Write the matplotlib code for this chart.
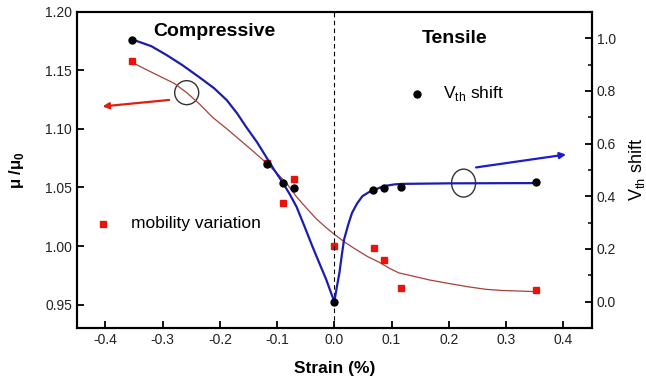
import matplotlib
matplotlib.use("Agg")
import matplotlib.pyplot as plt
from matplotlib.patches import Ellipse

plt.rcParams['font.family'] = ['Liberation Sans', 'DejaVu Sans']
plt.rcParams['mathtext.fontset'] = 'custom'
plt.rcParams['mathtext.rm'] = 'Liberation Sans'
plt.rcParams['mathtext.bf'] = 'Liberation Sans:bold'
plt.rcParams['axes.unicode_minus'] = False

# mobility variation (left axis)
mob_strain = [-0.354, -0.117, -0.089, -0.070, 0.0, 0.070, 0.087, 0.117, 0.352]
mob_value = [1.158, 1.071, 1.037, 1.057, 1.000, 0.998, 0.988, 0.964, 0.962]
# fitted trend of mobility
mob_fit_x = [-0.354, -0.330, -0.305, -0.280, -0.258, -0.235, -0.213, -0.190, -0.166,
             -0.142, -0.119, -0.100, -0.084, -0.066, -0.048, -0.031, -0.015,
             0.0, 0.019, 0.038, 0.058, 0.079, 0.096, 0.113, 0.140, 0.166, 0.200,
             0.236, 0.265, 0.293, 0.325, 0.353]
mob_fit_y = [1.157, 1.151, 1.145, 1.139, 1.131, 1.121, 1.110, 1.101, 1.091,
             1.081, 1.071, 1.062, 1.054, 1.042, 1.032, 1.023, 1.016,
             1.010, 1.003, 0.997, 0.991, 0.986, 0.981, 0.977, 0.974, 0.971, 0.968,
             0.965, 0.963, 0.962, 0.9615, 0.961]

# Vth shift (right axis)
vth_strain = [-0.354, -0.117, -0.090, -0.070, 0.0, 0.068, 0.087, 0.117, 0.352]
vth_value = [0.992, 0.523, 0.450, 0.430, 0.0, 0.424, 0.430, 0.435, 0.455]
vth_fit_x = [-0.354, -0.320, -0.293, -0.265, -0.236, -0.210, -0.188, -0.170, -0.154,
             -0.135, -0.119, -0.105, -0.091, -0.078, -0.066, -0.052, -0.038, -0.025,
             -0.014, -0.006, 0.0, 0.004, 0.009, 0.013, 0.017, 0.024, 0.031, 0.040,
             0.049, 0.060, 0.070, 0.080, 0.091, 0.105, 0.119, 0.200, 0.353]
vth_fit_y = [0.996, 0.970, 0.936, 0.897, 0.852, 0.810, 0.765, 0.715, 0.663,
             0.605, 0.549, 0.500, 0.455, 0.408, 0.360, 0.285, 0.208, 0.140,
             0.083, 0.035, 0.0, 0.050, 0.110, 0.175, 0.235, 0.290, 0.337, 0.373,
             0.400, 0.415, 0.424, 0.433, 0.440, 0.445, 0.447, 0.449, 0.450]

fig = plt.figure(figsize=(6.46, 3.84), dpi=100)
ax = fig.add_axes([0.119, 0.146, 0.797, 0.823])
ax2 = ax.twinx()

ax.plot(mob_fit_x, mob_fit_y, color='#a8403a', lw=0.9)
ax.plot(mob_strain, mob_value, 's', color='#e8140c', ms=4.8, mec='#e8140c')
ax2.plot(vth_fit_x, vth_fit_y, color='#1c1cb0', lw=1.6)
ax2.plot(vth_strain, vth_value, 'o', color='black', ms=5)

ax.axvline(0, color='black', lw=0.8, ls=(0, (4, 3)))

ax.set_xticks([-0.4, -0.3, -0.2, -0.1, 0.0, 0.1, 0.2, 0.3, 0.4])
ax.set_yticks([0.95, 1.00, 1.05, 1.10, 1.15, 1.20])
ax2.set_yticks([0.0, 0.2, 0.4, 0.6, 0.8, 1.0])
ax2.set_yticks([0.1, 0.3, 0.5, 0.7, 0.9], minor=True)
ax.set_yticklabels(['0.95', '1.00', '1.05', '1.10', '1.15', '1.20'])
ax2.set_yticklabels(['0.0', '0.2', '0.4', '0.6', '0.8', '1.0'])
ax.set_xlim(-0.45, 0.45)
ax.set_ylim(0.93, 1.20)
ax2.set_ylim(-0.1, 1.1)

for a in (ax, ax2):
    for s in a.spines.values():
        s.set_linewidth(1.5)
    a.tick_params(direction='in', length=5, width=1.3, labelsize=10, labelcolor='#222222')
    a.tick_params(which='minor', direction='in', length=3, width=1.1)
ax.tick_params(top=False, right=False)
ax2.tick_params(left=False, top=False)

ax.set_xlabel('Strain (%)', fontsize=12.5, fontweight='bold', labelpad=10)
ax.set_ylabel(r'μ /μ$_{\mathbf{0}}$', fontsize=12, fontweight='bold', labelpad=14)
ax2.set_ylabel(r'V$_{\rm th}$ shift', fontsize=13, labelpad=8)

ax.text(-0.21, 1.183, 'Compressive', fontsize=14, fontweight='bold', ha='center', va='center')
ax2.text(0.21, 1.0, 'Tensile', fontsize=14, fontweight='bold', ha='center', va='center')

ax2.plot([0.145], [0.79], 'o', color='black', ms=5)
ax2.text(0.19, 0.79, r'V$_{\rm th}$ shift', fontsize=12.5, va='center')
ax.plot([-0.404], [1.019], 's', color='#e8140c', ms=4.8)
ax.text(-0.355, 1.019, 'mobility variation', fontsize=12.5, va='center')

ax.add_patch(Ellipse((-0.258, 1.131), 0.042, 0.0205, fill=False, ec='#333333', lw=1))
ax2.add_patch(Ellipse((0.226, 0.45), 0.042, 0.106, fill=False, ec='#333333', lw=1))

ax.annotate('', xy=(-0.41, 1.119), xytext=(-0.284, 1.125),
            arrowprops=dict(arrowstyle='-|>', color='#dd2010', lw=1.6, mutation_scale=9))
ax2.annotate('', xy=(0.41, 0.56), xytext=(0.243, 0.508),
             arrowprops=dict(arrowstyle='-|>', color='#1c1cd0', lw=1.6, mutation_scale=9))

fig.savefig('out.png', dpi=100)
